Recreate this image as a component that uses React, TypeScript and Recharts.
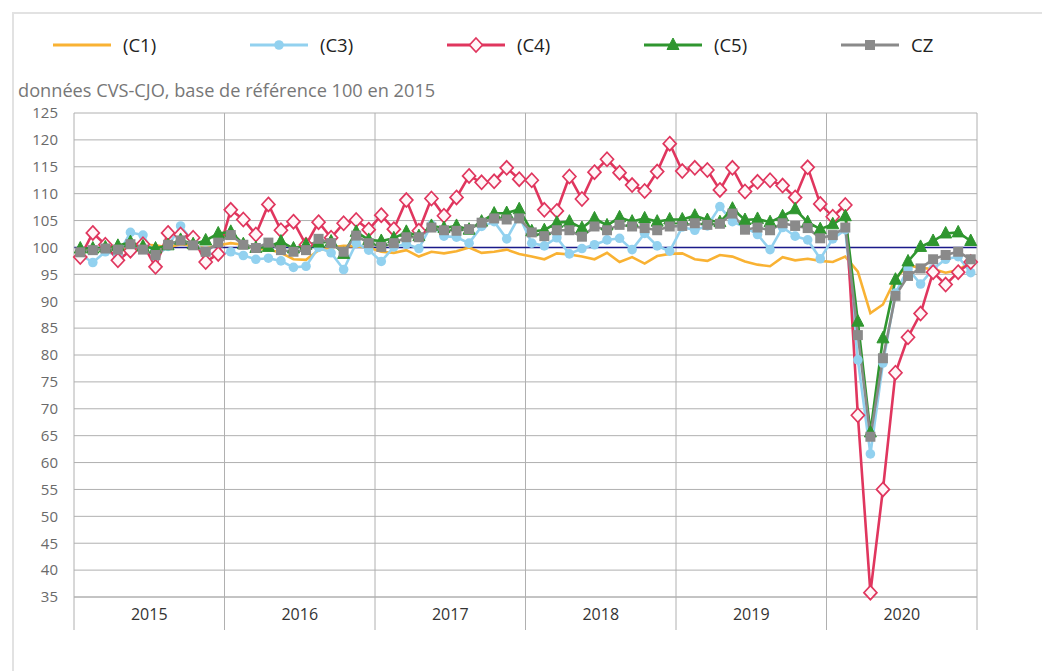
import React from 'react';
import { LineChart, Line, XAxis, YAxis, CartesianGrid, ReferenceLine } from 'recharts';

const years = [2015, 2016, 2017, 2018, 2019, 2020];
const yTicks = [35, 40, 45, 50, 55, 60, 65, 70, 75, 80, 85, 90, 95, 100, 105, 110, 115, 120, 125];

const c1 = [
  99.2, 99.5, 100, 99.6, 100, 100.5, 100.4, 100, 100.6, 100.3, 99.8, 100.4,
  100.8, 100.5, 99.8, 99.6, 99, 97.8, 97.7, 99.5, 100, 100.3, 100.2, 100,
  99.2, 99.0, 99.5, 98.3, 99.2, 98.9, 99.3, 100.0, 99.0, 99.2, 99.6, 98.8,
  98.3, 97.8, 98.9, 98.7, 98.3, 97.8, 99.0, 97.3, 98.2, 97.0, 98.4, 98.8,
  98.9, 97.8, 97.5, 98.6, 98.3, 97.4, 96.8, 96.5, 98.2, 97.6, 97.9, 97.5,
  97.3, 98.3, 95.5, 87.8, 89.4, 94.2, 96.7, 96.2, 96.0, 95.3, 95.8, 97.3,
];
const c3 = [
  98.7, 97.2, 99.2, 98.6, 102.8, 102.3, 98.3, 100.2, 104.0, 101.0, 99.0, 98.6,
  99.2, 98.5, 97.8, 98.0, 97.5, 96.3, 96.5, 100.0, 99.0, 95.9, 100.8, 99.5,
  97.4, 100.1, 100.6, 99.8, 104.2, 102.1, 101.9, 100.8, 103.9, 104.8, 101.6, 105.8,
  100.8, 100.3, 101.8, 98.8, 99.8, 100.5, 101.4, 101.7, 99.6, 102.6, 100.3, 99.3,
  103.8, 103.2, 104.0, 107.6, 104.8, 103.8, 102.4, 99.6, 103.7, 102.1, 101.4, 97.9,
  101.6, 103.3, 79.1, 61.6, 78.5, 91.5, 96.0, 93.2, 96.0, 97.8, 98.3, 95.3,
];
const c4 = [
  98.2, 102.7, 100.5, 97.6, 99.4, 100.6, 96.4, 102.7, 102.4, 101.8, 97.3, 98.8,
  107.0, 105.2, 102.4, 108.0, 103.2, 104.8, 100.5, 104.7, 101.8, 104.5, 105.1, 103.3,
  106.0, 103.4, 108.8, 103.1, 109.1, 105.9, 109.3, 113.3, 112.1, 112.3, 114.8, 112.7,
  112.5, 107.0, 106.8, 113.2, 109.0, 114.0, 116.4, 113.9, 111.6, 110.5, 114.1, 119.3,
  114.2, 114.8, 114.4, 110.7, 114.8, 110.4, 112.2, 112.5, 111.5, 109.3, 114.9, 108.1,
  105.7, 107.9, 68.8, 35.8, 55.0, 76.7, 83.3, 87.7, 95.4, 93.1, 95.4, 97.3,
];
const c5 = [
  99.8, 99.8, 100.0, 100.3, 101.0, 100.2, 99.8, 100.4, 101.4, 100.6, 101.3, 102.6,
  102.9, 100.6, 99.9, 100.1, 101.1, 99.8, 100.5, 100.9, 101.1, 98.8, 102.9, 101.4,
  101.2, 101.7, 102.9, 102.1, 104.0, 103.6, 104.0, 103.3, 104.8, 106.3, 106.4, 107.1,
  103.0, 103.2, 104.6, 104.8, 103.6, 105.4, 104.1, 105.6, 104.8, 105.4, 104.8, 105.2,
  105.2, 105.9, 105.1, 104.7, 107.2, 105.1, 105.3, 104.7, 105.8, 107.1, 104.7, 103.4,
  104.3, 105.8, 86.2, 65.6, 83.1, 94.0, 97.4, 100.1, 101.2, 102.6, 102.8, 101.2,
];
const cz = [
  99.1, 99.5, 99.8, 99.6, 100.6, 99.6, 98.6, 100.5, 101.3, 100.4, 99.2, 100.9,
  102.3, 100.5, 99.9, 100.9, 99.5, 99.2, 99.5, 101.6, 100.8, 99.2, 102.2, 100.8,
  100.1, 100.8, 101.9, 101.9, 103.7, 103.2, 103.1, 103.4, 104.6, 105.4, 105.2, 105.4,
  102.8, 102.1, 103.2, 103.2, 102.0, 103.9, 103.2, 104.2, 103.9, 103.6, 103.2, 103.9,
  104.0, 104.5, 104.2, 104.4, 106.3, 103.3, 103.7, 103.2, 104.5, 104.0, 103.6, 101.7,
  102.3, 103.7, 83.7, 64.8, 79.4, 91.0, 94.7, 96.1, 97.8, 98.6, 99.2, 97.8,
];

// month index + 0.5 so points sit between the year ticks
const data = c1.map((v, i) => ({ x: i + 0.5, c1: v, c3: c3[i], c4: c4[i], c5: c5[i], cz: cz[i] }));

const GRID = '#b0b0b0';
const FONT = '"Open Sans", "DejaVu Sans", sans-serif';

const circleDot = (color: string) => (p: any) => (
  <circle key={p.index} cx={p.cx} cy={p.cy} r={4.8} fill={color} stroke="none" />
);
const diamondDot = (color: string) => (p: any) => (
  <path
    key={p.index}
    d={`M${p.cx},${p.cy - 7} L${p.cx + 6.5},${p.cy} L${p.cx},${p.cy + 7} L${p.cx - 6.5},${p.cy} Z`}
    fill="#fff6f8"
    stroke={color}
    strokeWidth={1.7}
  />
);
const triangleDot = (color: string) => (p: any) => (
  <path
    key={p.index}
    d={`M${p.cx},${p.cy - 7} L${p.cx + 6},${p.cy + 4.5} L${p.cx - 6},${p.cy + 4.5} Z`}
    fill={color}
    stroke={color}
    strokeWidth={1}
  />
);
const squareDot = (color: string) => (p: any) => (
  <rect key={p.index} x={p.cx - 5} y={p.cy - 5} width={10} height={10} fill={color} />
);

const series = [
  { key: 'c1', name: '(C1)', color: '#f9b233', dot: null as any },
  { key: 'c3', name: '(C3)', color: '#92d1ef', dot: circleDot('#92d1ef') },
  { key: 'c4', name: '(C4)', color: '#e0365e', dot: diamondDot('#e0365e') },
  { key: 'c5', name: '(C5)', color: '#2f962f', dot: triangleDot('#2f962f') },
  { key: 'cz', name: 'CZ', color: '#8a8a8a', dot: squareDot('#8a8a8a') },
];

const LegendIcon = ({ s }: { s: typeof series[number] }) => {
  const m = s.dot ? s.dot({ cx: 29, cy: 10, index: 0 }) : null;
  return (
    <svg width={58} height={20} style={{ display: 'block' }}>
      <line x1={0} y1={10} x2={58} y2={10} stroke={s.color} strokeWidth={3} />
      {m}
    </svg>
  );
};

const XTick = (props: any) => {
  const { x, y, payload } = props;
  const v = payload.value;
  if (v % 12 === 0) {
    return <line x1={x} y1={y} x2={x} y2={y + 33} stroke={GRID} strokeWidth={1} />;
  }
  return (
    <text x={x} y={y + 23} textAnchor="middle" fill="#333" fontSize={16} fontFamily={FONT}>
      {years[Math.floor(v / 12)]}
    </text>
  );
};

export default function App() {
  return (
    <div style={{ position: 'absolute', left: 0, top: 0, width: 1042, height: 671, background: '#fff', overflow: 'hidden', fontFamily: FONT }}>
      <div style={{ position: 'absolute', left: 12, top: 12, right: 0, bottom: 0, borderLeft: '2px solid #e2e2e2', borderTop: '2px solid #e2e2e2' }} />
      <div style={{ position: 'absolute', left: 53, top: 33, display: 'flex' }}>
        {series.map((s) => (
          <div key={s.key} style={{ width: 197, display: 'flex', alignItems: 'center' }}>
            <LegendIcon s={s} />
            <span style={{ marginLeft: 12, fontSize: 18.5, color: '#222', lineHeight: '24px' }}>{s.name}</span>
          </div>
        ))}
      </div>
      <div style={{ position: 'absolute', left: 18, top: 78, fontSize: 18.2, color: '#777', lineHeight: '24px', whiteSpace: 'nowrap' }}>
        données CVS-CJO, base de référence 100 en 2015
      </div>
      <div style={{ position: 'absolute', left: 0, top: 0 }}>
        <LineChart width={1042} height={671} data={data} margin={{ top: 113, right: 15, bottom: 40, left: 14 }}>
          <CartesianGrid vertical={false} stroke={GRID} strokeWidth={1} yAxisId="left" />
          <XAxis
            dataKey="x"
            type="number"
            domain={[0, 72]}
            ticks={[0, 6, 12, 18, 24, 30, 36, 42, 48, 54, 60, 66, 72]}
            interval={0}
            tick={<XTick />}
            tickLine={false}
            tickSize={0}
            tickMargin={0}
            axisLine={{ stroke: GRID }}
            height={34}
          />
          <YAxis
            yAxisId="left"
            domain={[35, 125]}
            ticks={yTicks}
            interval={0}
            width={60}
            tickLine={false}
            tickMargin={10}
            axisLine={{ stroke: GRID }}
            tick={{ fill: '#6a6a6a', fontSize: 15, fontFamily: FONT }}
          />
          <YAxis
            yAxisId="right"
            orientation="right"
            domain={[35, 125]}
            ticks={yTicks}
            interval={0}
            width={50}
            tickLine={false}
            tickMargin={5}
            axisLine={{ stroke: GRID }}
            tick={{ fill: '#6a6a6a', fontSize: 15, fontFamily: FONT }}
          />
          {[12, 24, 36, 48, 60].map((v) => (
            <ReferenceLine key={v} x={v} yAxisId="left" stroke={GRID} strokeWidth={1} />
          ))}
          <ReferenceLine y={100} yAxisId="left" stroke="#1a1a8a" strokeWidth={1.6} />
          {series.map((s) => (
            <Line
              key={s.key}
              yAxisId="left"
              dataKey={s.key}
              name={s.name}
              type="linear"
              stroke={s.color}
              strokeWidth={2.6}
              dot={s.dot ? s.dot : false}
              activeDot={false}
              isAnimationActive={false}
            />
          ))}
        </LineChart>
      </div>
    </div>
  );
}
